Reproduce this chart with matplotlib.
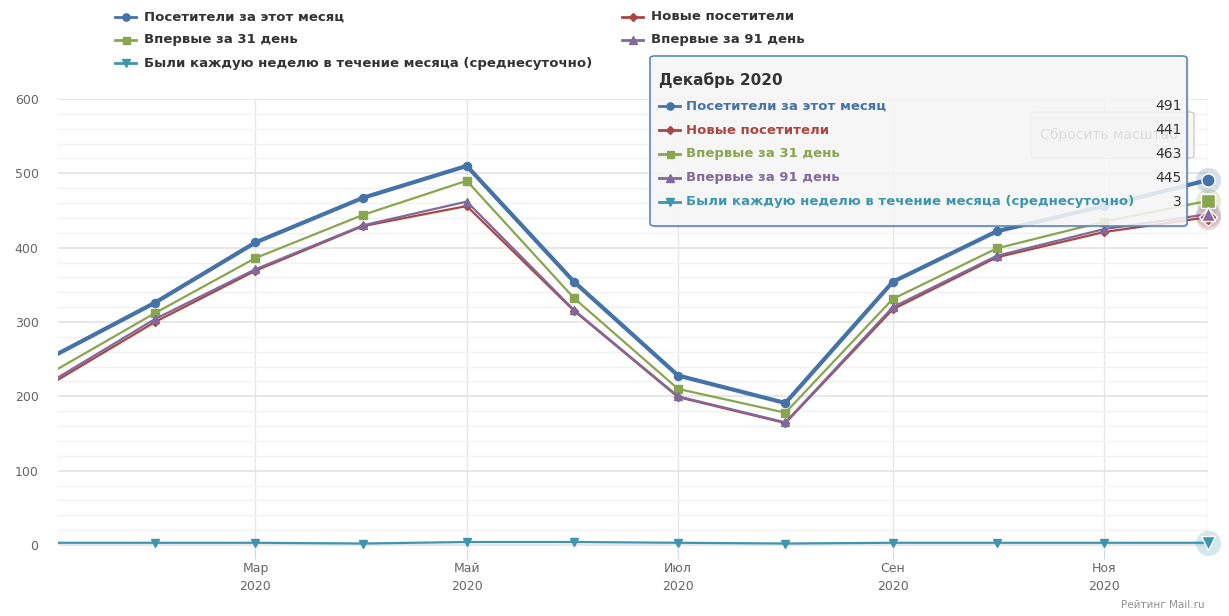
import matplotlib
matplotlib.use("Agg")
import matplotlib.pyplot as plt
import matplotlib.dates as mdates
from matplotlib.lines import Line2D
from matplotlib.patches import FancyBboxPatch
from datetime import datetime

plt.rcParams['font.family'] = ['DejaVu Sans']

# данные по месяцам 2020 года
months = [datetime(2020, m, 1) for m in range(1, 13)]
visitors = [250, 326, 407, 467, 510, 354, 228, 191, 354, 422, 456, 491]
new_visitors = [214, 300, 369, 429, 456, 315, 199, 164, 317, 387, 421, 441]
first_31 = [229, 312, 386, 444, 490, 332, 210, 178, 331, 399, 435, 463]
first_91 = [217, 304, 371, 430, 462, 316, 200, 165, 320, 389, 425, 445]
weekly = [3, 3, 3, 2, 4, 4, 3, 2, 3, 3, 3, 3]

names = ["Посетители за этот месяц", "Новые посетители", "Впервые за 31 день",
         "Впервые за 91 день", "Были каждую неделю в течение месяца (среднесуточно)"]
series = [visitors, new_visitors, first_31, first_91, weekly]
colors = ["#4572A7", "#AA4643", "#89A54E", "#80699B", "#3D96AE"]
markers = ["o", "D", "s", "^", "v"]
msizes = [5.8, 4.2, 5.6, 6.0, 6.0]
lwidths = [3.0, 1.6, 1.6, 1.6, 1.6]

tick_dates = [datetime(2020, 3, 1), datetime(2020, 5, 1), datetime(2020, 7, 1),
              datetime(2020, 9, 1), datetime(2020, 11, 1)]
tick_labels = ["Мар\n2020", "Май\n2020", "Июл\n2020", "Сен\n2020", "Ноя\n2020"]
tooltip_title = "Декабрь 2020"

W, H = 1229, 616
def fx(x):
    return x / W
def fy(y):
    return 1 - y / H

fig = plt.figure(figsize=(W / 100, H / 100), dpi=100)
# область графика: 0 -> y=545px, 600 -> y=99px
ymin = -6
left, right, top = 58, 1208, 99
bottom = 545 + (-ymin) * (545 - 99) / 600
ax = fig.add_axes([fx(left), fy(bottom), (right - left) / W, (bottom - top) / H])

ax.set_xlim(datetime(2020, 1, 4), datetime(2020, 12, 1))
ax.set_ylim(ymin, 600)

# сетка
ax.set_yticks(range(0, 601, 100))
ax.set_yticks(range(0, 601, 20), minor=True)
ax.grid(axis="y", which="major", color="#e3e3e3", lw=1.2, zorder=0)
ax.grid(axis="y", which="minor", color="#f1f1f1", lw=1.0, zorder=0)
ax.set_xticks(tick_dates)
ax.set_xticklabels(tick_labels, linespacing=1.55)
ax.grid(axis="x", which="major", color="#e6e6e6", lw=1.0, zorder=0)
ax.axvline(months[-1], color="#dedede", lw=1.0, zorder=0)
for s in ax.spines.values():
    s.set_visible(False)
ax.tick_params(axis="x", length=7, color="#ccd6eb", labelcolor="#666666",
               labelsize=9, pad=2)
ax.tick_params(axis="y", which="both", length=0, labelcolor="#666666",
               labelsize=9, pad=14)

# линии
for vals, name, c, m, ms, lw in zip(series, names, colors, markers, msizes, lwidths):
    ax.plot(months, vals, color=c, lw=lw, marker=m, ms=ms, mec=c, zorder=3)

# подсветка точек декабря
for vals, c, m in zip(series, colors, markers):
    ax.scatter([months[-1]], [vals[-1]], s=330, color=c, alpha=0.22,
               lw=0, zorder=4, clip_on=False)
for vals, c, m in zip(series, colors, markers):
    ax.plot([months[-1]], [vals[-1]], marker=m, ms=9.5, color=c, mec="white",
            mew=1.0, zorder=5, clip_on=False)

# легенда сверху
leg_pos = [(115, 17), (622, 17), (115, 40), (622, 40), (115, 63)]
order = [0, 1, 2, 3, 4]
for i, (x0, y0) in zip(order, leg_pos):
    fig.add_artist(Line2D([fx(x0), fx(x0 + 21)], [fy(y0), fy(y0)], color=colors[i],
                          lw=2.0, transform=fig.transFigure))
    fig.add_artist(Line2D([fx(x0 + 10.5)], [fy(y0)], color=colors[i], marker=markers[i],
                          ms=msizes[i] * 0.9, transform=fig.transFigure))
    fig.text(fx(x0 + 29), fy(y0), names[i], color="#333333", fontsize=9.5,
             fontweight="bold", va="center", ha="left")

# кнопка "Сбросить масштаб"
btn = FancyBboxPatch((fx(1031), fy(158)), fx(1194) - fx(1031), fy(112) - fy(158),
                     boxstyle="round,pad=0,rounding_size=0.004", transform=fig.transFigure,
                     facecolor="#f7f7f7", edgecolor="#cccccc", lw=1, zorder=6)
fig.add_artist(btn)
fig.text(fx(1040), fy(135), "Сбросить масштаб", color="#333333", fontsize=10,
         va="center", ha="left", zorder=6)

# всплывающая подсказка
shadow = FancyBboxPatch((fx(652), fy(228)), fx(1189) - fx(652), fy(58) - fy(228),
                        boxstyle="round,pad=0,rounding_size=0.004", transform=fig.transFigure,
                        facecolor="#000000", alpha=0.08, lw=0, zorder=7)
fig.add_artist(shadow)
tip = FancyBboxPatch((fx(650), fy(226)), fx(1187) - fx(650), fy(56) - fy(226),
                     boxstyle="round,pad=0,rounding_size=0.004", transform=fig.transFigure,
                     facecolor=(0.975, 0.975, 0.975, 0.86), edgecolor="#5d86b8",
                     lw=1.2, zorder=8)
fig.add_artist(tip)
fig.text(fx(659), fy(80), tooltip_title, color="#333333", fontsize=11,
         fontweight="bold", va="center", ha="left", zorder=9)
for k in range(5):
    yk = 106 + 24 * k
    fig.add_artist(Line2D([fx(659), fx(680)], [fy(yk), fy(yk)], color=colors[k],
                          lw=2.0, transform=fig.transFigure, zorder=9))
    fig.add_artist(Line2D([fx(669.5)], [fy(yk)], color=colors[k], marker=markers[k],
                          ms=msizes[k] * 0.9, transform=fig.transFigure, zorder=9))
    fig.text(fx(686), fy(yk), names[k], color=colors[k], fontsize=9.5,
             fontweight="bold", va="center", ha="left", zorder=9)
    fig.text(fx(1182), fy(yk), str(series[k][-1]), color="#333333", fontsize=10,
             va="center", ha="right", zorder=9)

fig.text(fx(1205), fy(605), "Рейтинг Mail.ru", color="#909090", fontsize=7.5,
         va="center", ha="right")

fig.savefig("out.png", dpi=100, facecolor="white")
